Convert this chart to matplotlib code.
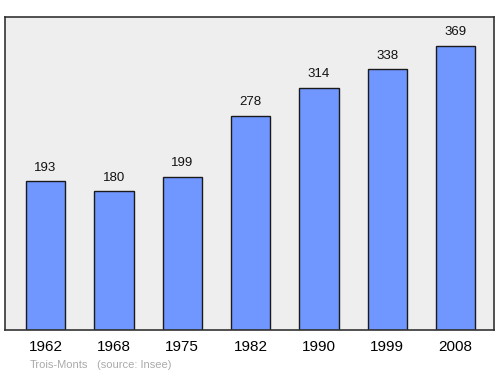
import matplotlib
matplotlib.use("Agg")
import matplotlib.pyplot as plt

years = ["1962", "1968", "1975", "1982", "1990", "1999", "2008"]
population = [193, 180, 199, 278, 314, 338, 369]

plt.rcParams['font.family'] = ['Liberation Sans', 'DejaVu Sans']

fig = plt.figure(figsize=(5.0, 3.74), dpi=100)
ax = fig.add_axes([5/500, 1-330/374, 489/500, 313/374])
ax.set_facecolor('#eeeeee')
x = list(range(len(years)))
ax.bar(x, population, width=0.575, color='#7096ff', edgecolor='#1a1a1a', linewidth=1.0, zorder=2)
for xi, v in zip(x, population):
    ax.annotate(str(v), (xi, v), xytext=(0, 5.5), textcoords='offset points',
                ha='center', va='bottom', fontsize=9.5, color='#111111')
ax.set_xlim(-0.593, 6.563)
ax.set_ylim(0, 406)
ax.set_yticks([])
ax.set_xticks(x)
ax.set_xticklabels(years, fontsize=11)
ax.tick_params(axis='x', length=0, pad=7)
for s in ax.spines.values():
    s.set_color('#333333')
    s.set_linewidth(1.2)
fig.text(30/500, 1-365/374, "Trois-Monts", fontsize=8, color='#aaaaaa', ha='left', va='center')
fig.text(97/500, 1-365/374, "(source: Insee)", fontsize=8, color='#aaaaaa', ha='left', va='center')
fig.savefig("out.png", dpi=100)
